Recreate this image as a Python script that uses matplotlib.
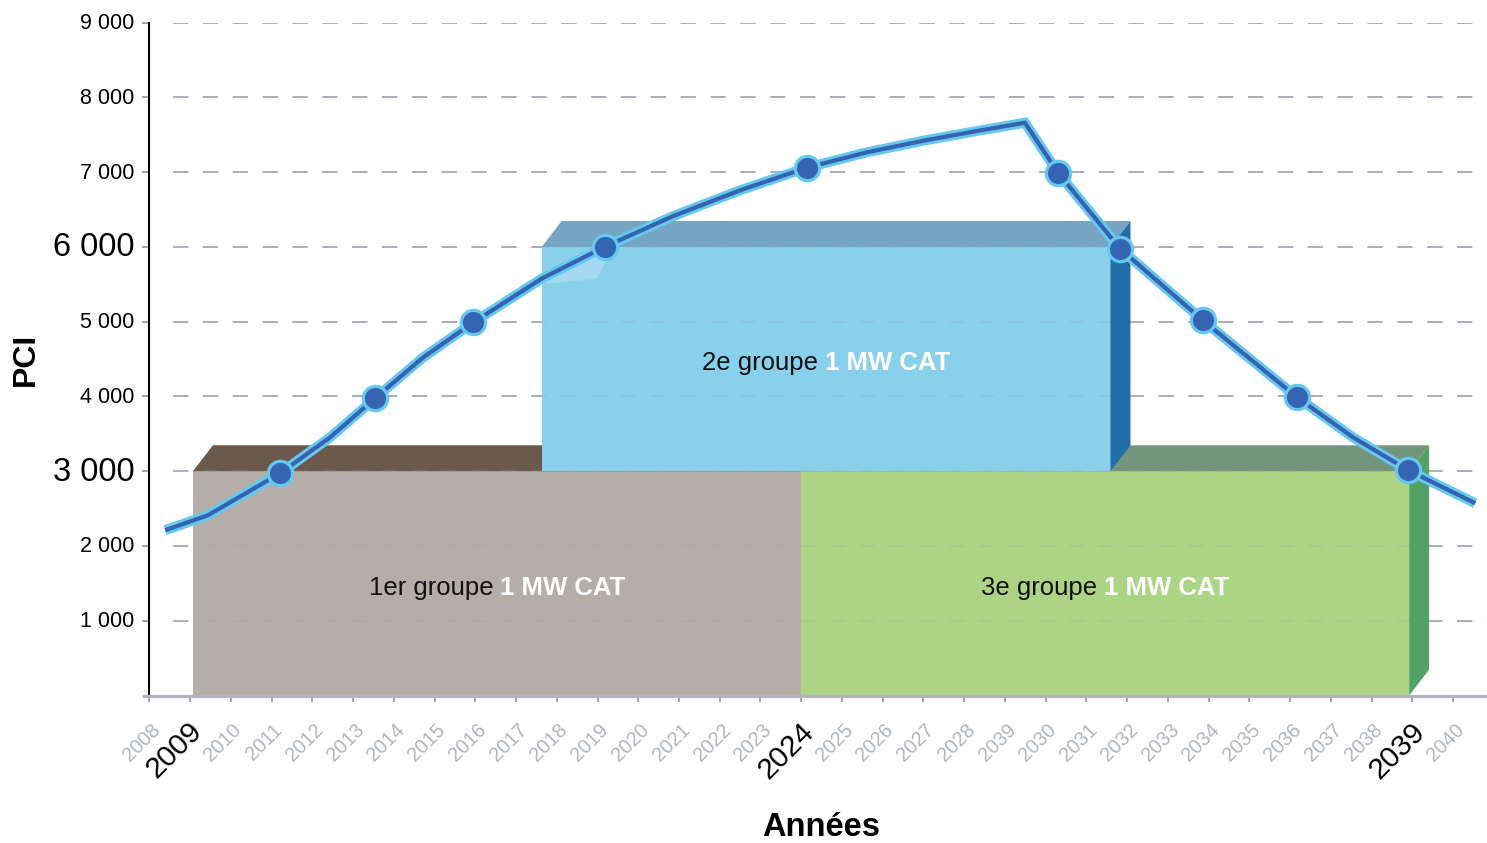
import matplotlib
matplotlib.use("Agg")
import matplotlib.pyplot as plt
from matplotlib.patches import Polygon
from matplotlib.offsetbox import TextArea, HPacker, AnnotationBbox

plt.rcParams['font.family'] = ['Liberation Sans', 'DejaVu Sans']
plt.rcParams['lines.scale_dashes'] = False

# data
years = list(range(2008, 2041))
year_labels = ['2008', '2009', '2010', '2011', '2012', '2013', '2014', '2015',
               '2016', '2017', '2018', '2019', '2020', '2021', '2022', '2023',
               '2024', '2025', '2026', '2027', '2028', '2039', '2030', '2031',
               '2032', '2033', '2034', '2035', '2036', '2037', '2038', '2039',
               '2040']
big_years = [2009, 2024, 2039]

y_ticks = [1000, 2000, 3000, 4000, 5000, 6000, 7000, 8000, 9000]
y_labels = ['1 000', '2 000', '3 000', '4 000', '5 000', '6 000', '7 000', '8 000', '9 000']
big_y = [3000, 6000]

line_years = [2008.39, 2009.44, 2011.21, 2012.44, 2013.54, 2014.72, 2015.95, 2017.63,
              2019.19, 2020.86, 2022.51, 2024.14, 2025.57, 2026.99, 2028.30, 2029.49,
              2030.30, 2031.82, 2033.86, 2036.17, 2037.54, 2038.90, 2040.54]
line_vals = [2211, 2411, 2973, 3454, 3975, 4522, 4990, 5577,
             6005, 6414, 6760, 7061, 7261, 7421, 7550, 7662,
             6994, 5979, 5017, 3988, 3454, 3013, 2572]

marker_years = [2011.21, 2013.54, 2015.95, 2019.19, 2024.14, 2030.30, 2031.82, 2033.86, 2036.17, 2038.90]
marker_vals = [2973, 3975, 4990, 6005, 7061, 6994, 5979, 5017, 3988, 3013]

group_names = ['1er groupe', '2e groupe', '3e groupe']
group_power = '1 MW CAT'
group_start = [2009.07, 2017.63, 2024.0]
group_end = [2024.0, 2031.59, 2038.92]
group_base = [0, 3000, 0]
group_top = [3000, 6000, 3000]

# colours: front, top, side
box_colors = [('#b5ada8', '#6b5a4c', None),
              ('#89d0ea', '#75a5c2', '#226ea9'),
              ('#add385', '#72957c', '#52a267')]

DX, DY = 0.49, 347  # depth of the fake 3d boxes

fig = plt.figure(figsize=(14.87, 8.43), dpi=100)
ax = fig.add_axes([149.3 / 1487, 147.5 / 843, 1 - 149.3 / 1487, (695.5 - 22.7) / 843])
ax.set_xlim(2008, 2040.83)
ax.set_ylim(0, 9000)

for s in ['top', 'right']:
    ax.spines[s].set_visible(False)
ax.spines['left'].set_color('black')
ax.spines['left'].set_linewidth(1.5)
ax.spines['left'].set_zorder(6)
ax.spines['bottom'].set_color('#b4b4bc')
ax.spines['bottom'].set_linewidth(2.3)
ax.spines['bottom'].set_zorder(6)

ax.set_xticks(years)
ax.set_xticklabels([])
ax.set_yticks(y_ticks)
ax.set_yticklabels([])
ax.tick_params(axis='x', length=4.5, width=1.3, color='#9c9ca4')
ax.tick_params(axis='y', length=5, width=1.3, color='#9c9ca4')
ax.xaxis.get_major_ticks()[0].tick1line.set_color('black')
ax.plot([2008 - 7 / 40.74, 2008], [0, 0], color='#b4b4bc', lw=2.3, clip_on=False, zorder=6,
        solid_capstyle='butt')

# gridlines: full under boxes, faint over the front faces
for v in y_ticks:
    ax.plot([2008.58, 2040.83], [v, v], color='#b0b0b8', lw=1.4, dashes=(11, 10.5), zorder=0.5)
    ax.plot([2008.58, 2040.83], [v, v], color='#a0a0a8', lw=1.4, dashes=(11, 10.5), zorder=2,
            alpha=0.18)

order = [0, 2, 1]
zf = {0: 1.0, 2: 1.2, 1: 1.4}
for i in order:
    x0, x1, y0, y1 = group_start[i], group_end[i], group_base[i], group_top[i]
    front, top, side = box_colors[i]
    z = zf[i]
    ax.add_patch(Polygon([(x0, y0), (x1, y0), (x1, y1), (x0, y1)], closed=True,
                         facecolor=front, edgecolor='none', zorder=z))
    ax.add_patch(Polygon([(x0, y1), (x0 + DX, y1 + DY), (x1 + DX, y1 + DY), (x1, y1)], closed=True,
                         facecolor=top, edgecolor='none', zorder=z + 0.05))
    if side:
        ax.add_patch(Polygon([(x1, y0), (x1 + DX, y0 + DY), (x1 + DX, y1 + DY), (x1, y1)],
                             closed=True, facecolor=side, edgecolor='none', zorder=3 + z))

# light reflection on the blue box
ax.add_patch(Polygon([(2017.63, 5500), (2018.98, 5574), (2019.25, 5860), (2019.19, 6005),
                      (2017.63, 5577)], closed=True, facecolor='#a3d9f1', edgecolor='none',
                     zorder=1.5))

# labels on boxes
for i in range(3):
    t1 = TextArea(group_names[i], textprops=dict(color='#111111', fontsize=18.5))
    t2 = TextArea(group_power, textprops=dict(color='white', fontsize=18.5, fontweight='bold'))
    pack = HPacker(children=[t1, t2], align='baseline', pad=0, sep=5)
    cx = (group_start[i] + group_end[i]) / 2
    cy = (group_base[i] + group_top[i]) / 2
    ab = AnnotationBbox(pack, (cx, cy), xybox=(0, -3), boxcoords='offset points',
                        frameon=False, box_alignment=(0.5, 0.5), zorder=5)
    ax.add_artist(ab)

# curve
ax.plot(line_years, line_vals, color='#66c8ee', lw=7.2, solid_capstyle='butt',
        solid_joinstyle='miter', zorder=7)
ax.plot(line_years, line_vals, color='#3563b0', lw=3.0, solid_capstyle='butt',
        solid_joinstyle='miter', zorder=7.1)
ax.plot(marker_years, marker_vals, 'o', ms=17.5, mfc='#3565b2', mec='#66c8ee', mew=2.3,
        zorder=7.2, clip_on=False)

# x tick labels
for yr, lab in zip(years, year_labels):
    if yr in big_years:
        kw = dict(fontsize=21.5, color='black')
    else:
        kw = dict(fontsize=14.3, color='#b1b6bb')
    ax.annotate(lab, xy=(yr, 0), xycoords='data', xytext=(8, -31.5), textcoords='offset pixels',
                rotation=45, ha='right', va='center', rotation_mode='anchor',
                annotation_clip=False, **kw)

# y tick labels
for v, lab in zip(y_ticks, y_labels):
    if v in big_y:
        kw = dict(fontsize=23.5, color='black')
    else:
        kw = dict(fontsize=15.5, color='black')
    ax.annotate(lab, xy=(2008, v), xycoords='data', xytext=(-15, -1), textcoords='offset pixels',
                ha='right', va='center', annotation_clip=False, **kw)

fig.text(26 / 1487, 1 - 359 / 843, 'PCI', rotation=90, ha='center', va='center',
         fontsize=23, fontweight='bold')
fig.text(821 / 1487, 7 / 843, 'Années', ha='center', va='baseline',
         fontsize=23.5, fontweight='bold')

fig.savefig('out.png', dpi=100)
